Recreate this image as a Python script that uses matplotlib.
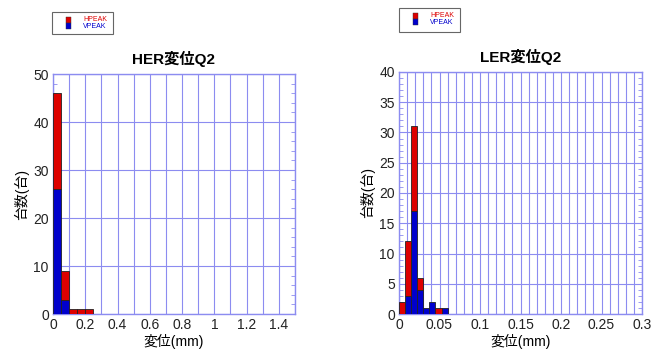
import numpy as np
import matplotlib.pyplot as plt
from matplotlib.ticker import MultipleLocator, FuncFormatter
from matplotlib.patches import Rectangle

plt.rcParams['font.family'] = ['Liberation Sans', 'Noto Sans CJK JP', 'DejaVu Sans']

# HER変位Q2 (bin width 0.05 mm)
her_bin = 0.05
her_vpeak = [26, 3, 0, 0, 0]
her_hpeak = [20, 6, 1, 1, 1]

# LER変位Q2 (bin width 0.0075 mm)
ler_bin = 0.0075
ler_vpeak = [0, 3, 17, 4, 1, 2, 0, 1]
ler_hpeak = [2, 9, 14, 2, 0, 0, 1, 0]

RED = '#dd0000'
BLUE = '#0000cc'
GRID = '#8c8cf0'

fig = plt.figure(figsize=(6.59, 3.49), dpi=100)
W, H = 659, 349


def fmt(v, pos):
    return f'{v:.3f}'.rstrip('0').rstrip('.')


def draw(rect, title, binw, vpk, hpk, xmax, ymax, xmaj, xgrid, ymaj, ymin, legrect):
    l, t, r, b = rect
    ax = fig.add_axes([l / W, 1 - b / H, (r - l) / W, (b - t) / H])
    edges = np.arange(len(vpk)) * binw
    v = np.array(vpk, float)
    h = np.array(hpk, float)
    m = v > 0
    ax.bar(edges[m], v[m], width=binw, align='edge', color=BLUE,
           edgecolor='#222222', linewidth=0.6, zorder=3)
    m = h > 0
    ax.bar(edges[m], h[m], width=binw, bottom=v[m], align='edge', color=RED,
           edgecolor='#222222', linewidth=0.6, zorder=3)
    ax.set_xlim(0, xmax)
    ax.set_ylim(0, ymax)
    ax.xaxis.set_major_locator(MultipleLocator(xmaj))
    ax.xaxis.set_minor_locator(MultipleLocator(xgrid))
    ax.yaxis.set_major_locator(MultipleLocator(ymaj))
    ax.yaxis.set_minor_locator(MultipleLocator(ymin))
    ax.xaxis.set_major_formatter(FuncFormatter(fmt))
    ax.grid(True, which='major', color=GRID, linewidth=0.8, zorder=0)
    ax.grid(True, which='minor', axis='x', color=GRID, linewidth=0.8, zorder=0)
    ax.tick_params(which='both', direction='in', colors=GRID, labelcolor='#222222',
                   labelsize=10, right=True, top=False)
    ax.tick_params(which='major', length=0, pad=3)
    ax.tick_params(which='minor', axis='y', length=3)
    ax.tick_params(which='minor', axis='x', length=0)
    for s in ax.spines.values():
        s.set_color(GRID)
        s.set_linewidth(1.0)
    ax.set_title(title, fontsize=11, fontweight='bold', pad=7)
    ax.set_xlabel('変位(mm)', fontsize=10, labelpad=1)
    ax.set_ylabel('台数(台)', fontsize=10, labelpad=3)

    # legend box
    lx0, ly0, lx1, ly1 = legrect
    fig.patches.append(Rectangle((lx0 / W, 1 - ly1 / H), (lx1 - lx0) / W, (ly1 - ly0) / H,
                                 transform=fig.transFigure, facecolor='white',
                                 edgecolor='#666666', linewidth=0.8))
    for i, (lab, c) in enumerate([('HPEAK', RED), ('VPEAK', BLUE)]):
        yy = ly0 + 7.5 + i * 6.5
        fig.patches.append(Rectangle(((lx0 + 14) / W, 1 - (yy + 3) / H), 5 / W, 6 / H,
                                     transform=fig.transFigure, facecolor=c,
                                     edgecolor='#333333', linewidth=0.3))
        fig.text((lx0 + 31) / W, 1 - yy / H, lab, color=c, fontsize=5,
                 va='center', ha='left')
    return ax


draw((53, 74, 295, 314), 'HER変位Q2', her_bin, her_vpeak, her_hpeak,
     1.5, 50, 0.2, 0.1, 10, 2, (52, 12, 113, 34))
draw((399, 72, 642, 314), 'LER変位Q2', ler_bin, ler_vpeak, ler_hpeak,
     0.3, 40, 0.05, 0.01, 5, 1, (399, 8, 460, 32))

fig.savefig('out.png', dpi=100)
